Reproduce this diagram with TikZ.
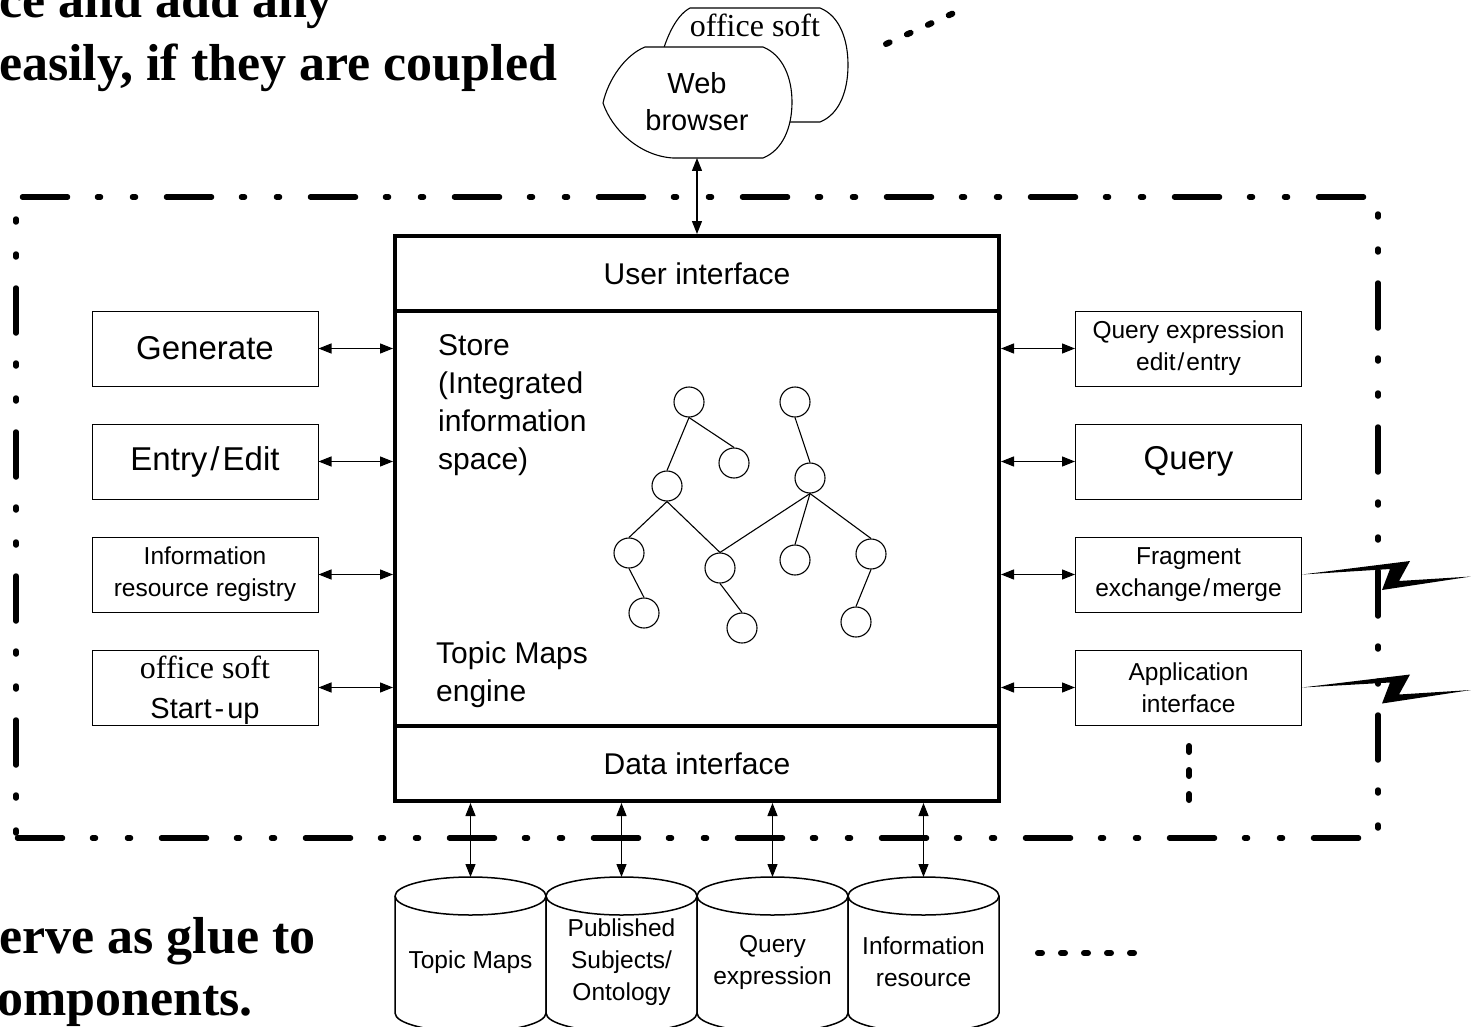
\documentclass[tikz,border=0pt]{standalone}
\usepackage{fontspec}
\setmainfont{Liberation Sans}
\newfontfamily\tnr{Liberation Serif}
\usetikzlibrary{arrows.meta}
\newcommand\fs[2]{\fontsize{#1}{#2}\selectfont}
\begin{document}
\begin{tikzpicture}[x=1pt,y=-1pt,
  box/.style={draw, line width=1pt, minimum width=226pt, minimum height=75pt, inner sep=0pt, align=center},
  mainpart/.style={draw, line width=4pt, minimum width=604pt, inner sep=0pt, font=\fs{30}{38}},
  dbl/.style={line width=1.2pt, {Triangle[length=13pt,width=10pt]}-{Triangle[length=13pt,width=10pt]}},
  circ/.style={draw, circle, minimum size=30pt, inner sep=0pt, line width=1.1pt},
  tedge/.style={line width=1.1pt},
  border/.style={line width=5.5pt, line cap=round, dash pattern=on 45pt off 30pt on 3pt off 32pt on 3pt off 31pt},
  dots/.style={line width=6pt, line cap=round, dash pattern=on 4pt off 19pt},
  cyl/.style={draw, fill=white, line width=1.5pt},
  big/.style={font=\fs{33}{40}},
  small/.style={font=\fs{24.5}{32}},
  boldtxt/.style={anchor=base west, inner sep=0pt, font=\tnr\bfseries\fs{52}{62}},
]
\useasboundingbox (0,0) rectangle (1471,1027);

% side texts
\node[boldtxt] (t1) at (-1,18) {ce and add any};
\node[boldtxt] (t2) at (-1,81) {easily, if they are coupled};
\node[boldtxt] (t3) at (-1,953) {erve as glue to};
\node[boldtxt] (t4) at (-3,1015) {omponents.};

% dash-dot border
\draw[border] (22.5,197) -- (1368,197);
\draw[border, dash phase=74pt] (1378,213) -- (1378,838);
\draw[border, dash phase=74pt] (16,218) -- (16,838);
\draw[border] (17.5,838) -- (1378,838);

% client shapes
\draw[line width=1.1pt, fill=white] (690,8) -- (820,8) .. controls (840,16) and (848,40) .. (848,65) .. controls (848,90) and (840,114) .. (820,122) -- (735,122) .. controls (700,120) and (668,95) .. (659,65) .. controls (665,40) and (675,16) .. (690,8) -- cycle;
\node[font=\tnr\fs{32}{38}, anchor=base, inner sep=0pt] (os) at (755,37) {office soft};
\draw[line width=1.1pt, fill=white] (645,47) -- (763,47) .. controls (783,55) and (792,78) .. (792,102) .. controls (792,127) and (783,150) .. (763,158) -- (673,158) .. controls (640,156) and (612,130) .. (603,103) .. controls (608,80) and (625,55) .. (645,47) -- cycle;
\node[font=\fs{29}{37}, align=center] (wb) at (697,102) {Web\\browser};
\coordinate (wbb) at (697,158);
\draw[dots] (886,44) -- (956,12);

% main engine
\node[mainpart, minimum height=75pt] (ui) at (697,273.5) {User interface};
\node[mainpart, minimum height=415pt] (st) at (697,518.5) {};
\node[mainpart, minimum height=75pt] (di) at (697,763.5) {Data interface};
\node[anchor=north west, inner sep=0pt, align=left, font=\fs{30}{38}] (stt) at (438,334) {Store\\(Integrated\\information\\space)};
\node[anchor=north west, inner sep=0pt, align=left, font=\fs{30}{38}] (eng) at (436,642) {Topic Maps\\engine};
\draw[dbl] (wbb) -- (ui.north);

% tree
\node[circ] (a) at (689,402) {};
\node[circ] (b) at (795,402) {};
\node[circ] (c) at (734,463) {};
\node[circ] (d) at (667,486) {};
\node[circ] (e) at (810,478) {};
\node[circ] (f) at (629,553) {};
\node[circ] (g) at (720,568) {};
\node[circ] (h) at (795,560) {};
\node[circ] (i) at (871,554) {};
\node[circ] (j) at (644,613) {};
\node[circ] (k) at (742,628) {};
\node[circ] (l) at (856,622) {};
\draw[tedge] (a.south) -- (d.north);
\draw[tedge] (a.south) -- (c.north);
\draw[tedge] (b.south) -- (e.north);
\draw[tedge] (d.south) -- (f.north);
\draw[tedge] (d.south) -- (g.north);
\draw[tedge] (e.south) -- (g.north);
\draw[tedge] (e.south) -- (h.north);
\draw[tedge] (e.south) -- (i.north);
\draw[tedge] (f.south) -- (j.north);
\draw[tedge] (g.south) -- (k.north);
\draw[tedge] (i.south) -- (l.north);

% left boxes
\node[box, big] (gen) at (205,348.5) {Generate};
\node[box, big] (ent) at (205,461.5) {Entry\kern3pt/\kern3pt Edit};
\node[box, small] (irr) at (205,574.5) {Information\\resource registry};
\node[box] (sup) at (205,687.5) {};
\node[font=\tnr\fs{32}{38}, anchor=base, inner sep=0pt] (supa) at (205,678) {office soft};
\node[font=\fs{29}{38}, anchor=base, inner sep=0pt] (supb) at (205,718) {Start\kern3pt-\kern3pt up};
\foreach \n in {gen,ent,irr,sup} \draw[dbl] (\n.east) -- (\n.east -| st.west);

% right boxes
\node[box, small] (qe) at (1188.5,348.5) {Query expression\\edit\kern2pt/\kern2pt entry};
\node[box, big] (qu) at (1188.5,461.5) {Query};
\node[box, small] (fr) at (1188.5,574.5) {Fragment\\exchange\kern2pt/\kern2pt merge};
\node[box, small] (ap) at (1188.5,687.5) {Application\\interface};
\foreach \n in {qe,qu,fr,ap} \draw[dbl] (\n.west) -- (\n.west -| st.east);
\draw[dots, dash pattern=on 6pt off 18pt] (1189,746) -- (1189,800);

% lightning bolts
\fill (fr.east) -- (1410,561) -- (1399,581) -- (1471,576.5) -- (1382,590) -- (1390,569) -- cycle;
\fill (ap.east) -- (1410,674.5) -- (1399,694.5) -- (1471,690) -- (1382,703.5) -- (1390,682.5) -- cycle;

% cylinders
\foreach \cx/\nm in {470.5/t1,621.5/t2,772.5/t3,923.5/t4} {
  \path[cyl] ({\cx-75.5},896) -- ({\cx-75.5},1013) arc[start angle=180,end angle=360,x radius=75.5pt,y radius=19pt] -- ({\cx+75.5},896) arc[start angle=0,end angle=180,x radius=75.5pt,y radius=19pt] -- cycle;
  \draw[line width=1.5pt] ({\cx-75.5},896) arc[start angle=180,end angle=360,x radius=75.5pt,y radius=19pt];
  \coordinate (top\nm) at (\cx,877);
  \draw[dbl] (top\nm |- di.south) -- (top\nm);
}
\node[small, align=center] (c1) at (470.5,962) {Topic Maps};
\node[small, align=center] (c2) at (621.5,962) {Published\\Subjects/\\Ontology};
\node[small, align=center] (c3) at (772.5,962) {Query\\expression};
\node[small, align=center] (c4) at (923.5,962) {Information\\resource};
\draw[dots] (1038,953) -- (1136,953);
\end{tikzpicture}
\end{document}
